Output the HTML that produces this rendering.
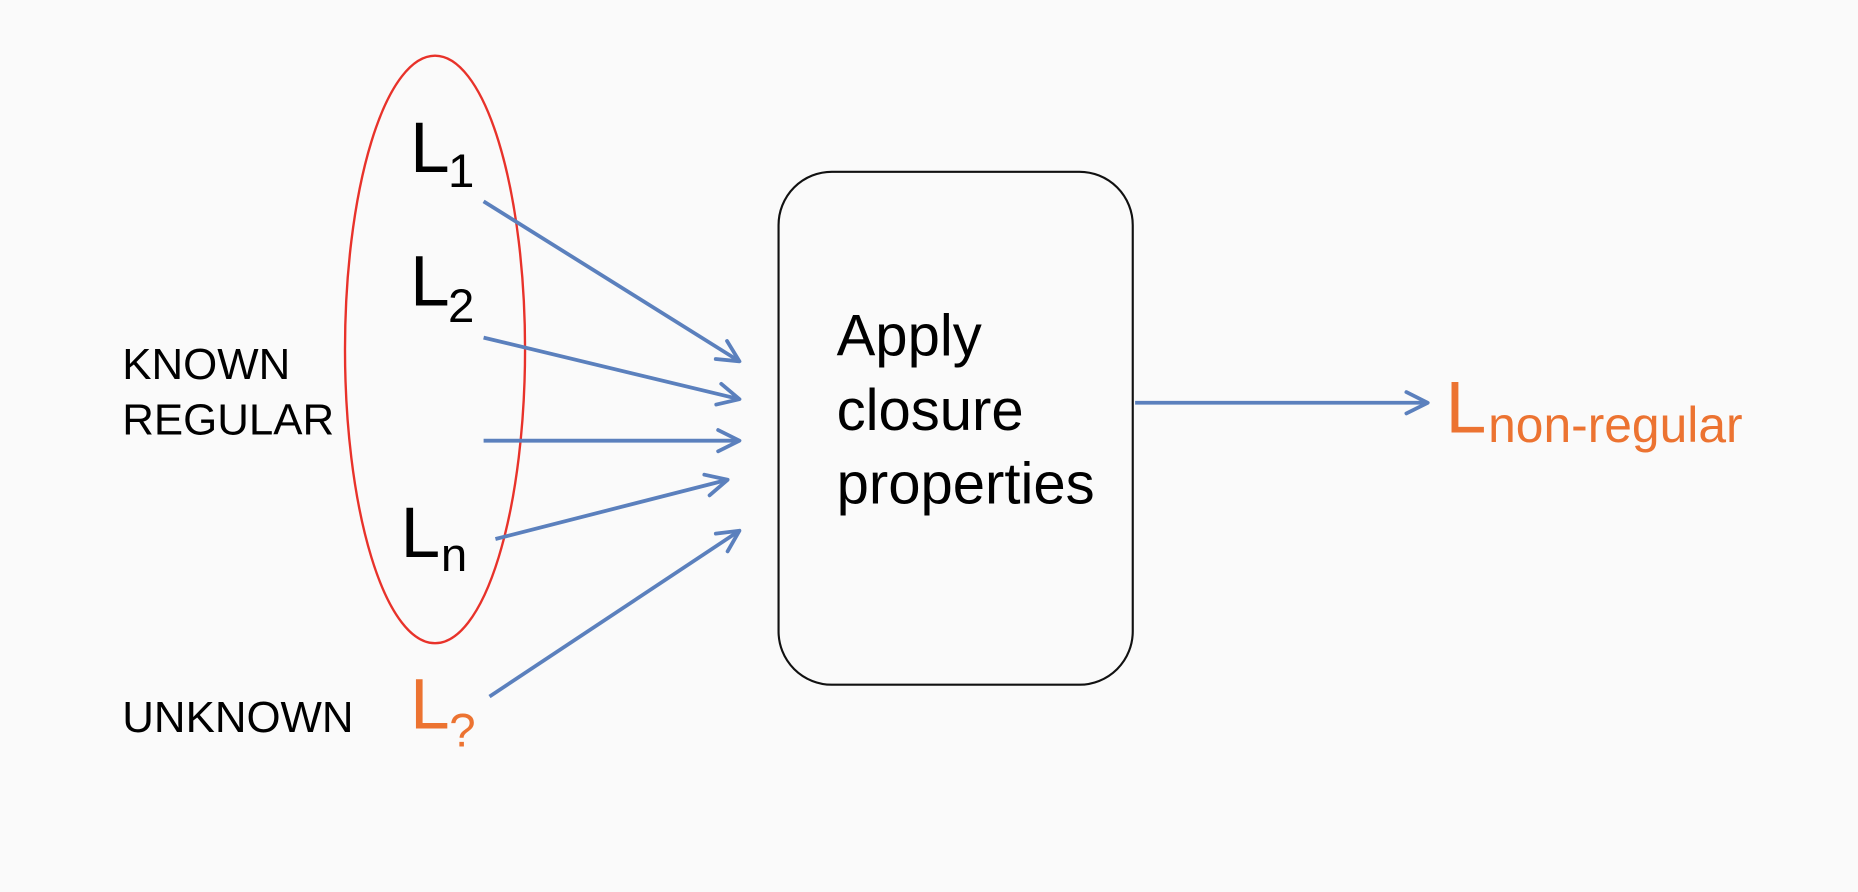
<!DOCTYPE html>
<html><head><meta charset="utf-8"><style>
html,body{margin:0;padding:0;background:#fafafa;}
svg{display:block;}
text{font-family:"Liberation Sans",Arial,sans-serif;}
</style></head><body>
<svg width="1858" height="892" viewBox="0 0 1568 753" xmlns="http://www.w3.org/2000/svg">
<defs>
<marker id="b" markerWidth="28" markerHeight="28" refX="22" refY="14" orient="auto" markerUnits="userSpaceOnUse" viewBox="0 0 28 28">
<path d="M4,5 L22,14 L4,23" fill="none" stroke="#5b80bd" stroke-width="3.2" stroke-linecap="round" stroke-linejoin="round"/>
</marker>
</defs>
<rect width="1568" height="753" fill="#fafafa"/>
<ellipse cx="367" cy="295" rx="76" ry="248" fill="none" stroke="#e8322a" stroke-width="2"/>
<rect x="657" y="145" width="299" height="433" rx="45" fill="none" stroke="#111" stroke-width="1.8"/>
<g stroke="#5b80bd" stroke-width="3.2" fill="none" marker-end="url(#b)">
<line x1="408" y1="170" x2="624" y2="305"/>
<line x1="408" y1="285" x2="624" y2="337"/>
<line x1="408" y1="372" x2="624" y2="372"/>
<line x1="418" y1="455" x2="614" y2="405"/>
<line x1="413" y1="588" x2="624" y2="448"/>
<line x1="958" y1="340" x2="1205" y2="340"/>
</g>
<g fill="#000">
<text x="346" y="145" font-size="60">L</text><text x="378" y="158" font-size="40">1</text>
<text x="346" y="258" font-size="60">L</text><text x="378" y="272" font-size="40">2</text>
<text x="338" y="470" font-size="60">L</text><text x="372" y="482" font-size="40">n</text>
<text x="103" y="320" font-size="37">KNOWN</text>
<text x="103" y="367" font-size="37">REGULAR</text>
<text x="103" y="618" font-size="37">UNKNOWN</text>
<text x="706" y="300" font-size="49">Apply</text>
<text x="706" y="363" font-size="49">closure</text>
<text x="706" y="425" font-size="49">properties</text>
</g>
<g fill="#ec7331">
<text x="346" y="615" font-size="60">L</text><text x="379" y="630" font-size="40">?</text>
<text x="1220" y="365" font-size="62">L</text><text x="1256" y="373" font-size="42">non-regular</text>
</g>
</svg>
</body></html>
